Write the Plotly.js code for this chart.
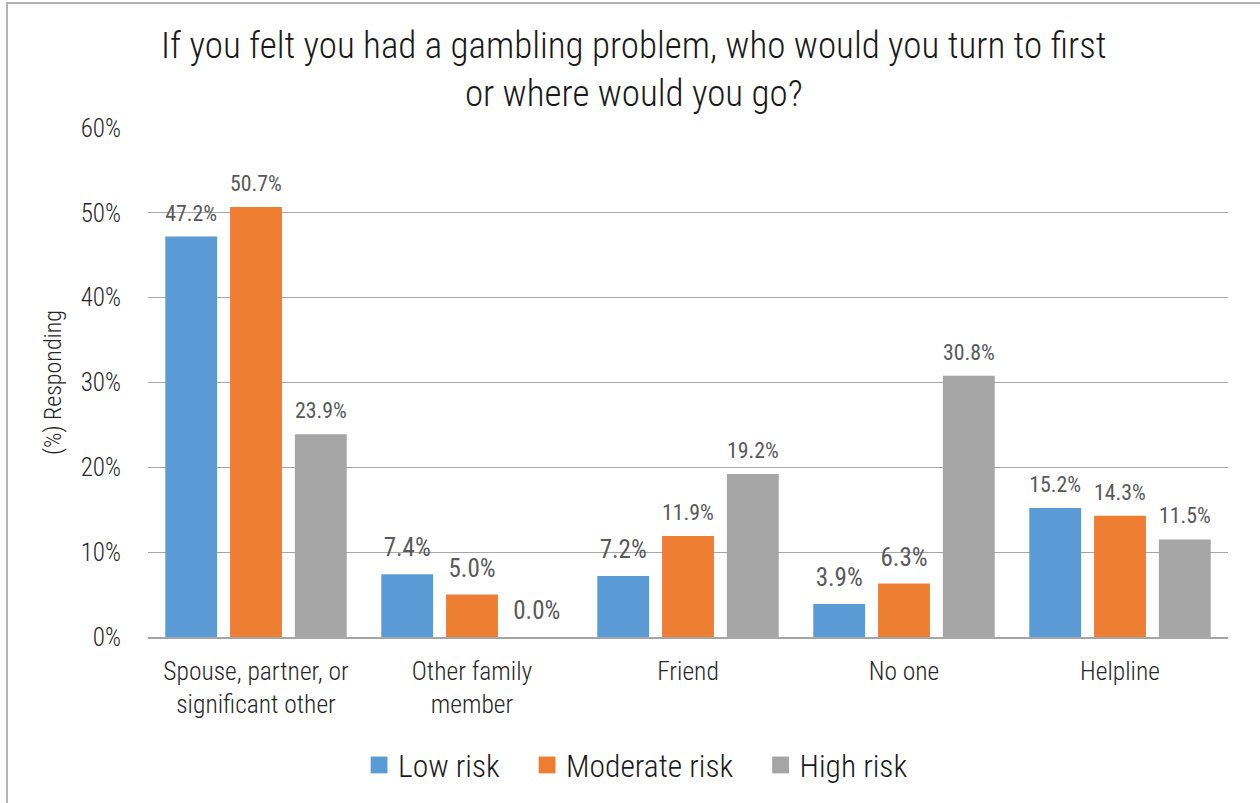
<!DOCTYPE html>
<html>
<head>
<meta charset="utf-8">
<script src="https://cdn.plot.ly/plotly-3.0.1.min.js"></script>
<style>
html,body{margin:0;padding:0;overflow:hidden;background:#fff;}
#wrap{position:relative;width:1260px;height:803px;}
#chart{position:absolute;left:0;top:0;width:1260px;height:803px;}
#frame{position:absolute;left:6px;top:2px;width:1300px;height:900px;border-left:2px solid #b4b4b4;border-top:2px solid #b4b4b4;pointer-events:none;}
</style>
</head>
<body>
<div id="wrap"><div id="chart"></div><div id="frame"></div></div>
<script>
const categories = ["Spouse, partner, or<br>significant other", "Other family<br>member", "Friend", "No one", "Helpline"];
const seriesNames = ["Low risk", "Moderate risk", "High risk"];
const lowRisk = [47.2, 7.4, 7.2, 3.9, 15.2];
const moderateRisk = [50.7, 5.0, 11.9, 6.3, 14.3];
const highRisk = [23.9, 0.0, 19.2, 30.8, 11.5];
const colors = ["#5b9bd5", "#ed7d31", "#a5a5a5"];
const yTicks = [0, 10, 20, 30, 40, 50, 60];

const FONT = "Roboto Condensed, Liberation Sans Narrow, Roboto, sans-serif";
const allSeries = [lowRisk, moderateRisk, highRisk];
const traces = allSeries.map((vals, i) => ({
  type: "bar",
  name: seriesNames[i],
  x: categories,
  y: vals,
  marker: {color: colors[i]},
  text: vals.map(v => v.toFixed(1) + "%"),
  textposition: "outside",
  cliponaxis: false,
  textfont: {family: FONT, size: 25, color: "#595959", weight: 400},
  hoverinfo: "skip"
}));

const layout = {
  width: 1260, height: 803,
  margin: {l: 148, r: 32, t: 128, b: 165},
  paper_bgcolor: "#fff", plot_bgcolor: "#fff",
  font: {family: FONT, color: "#404040", weight: 300},
  title: {
    text: "If you felt you had a gambling problem, who would you turn to first<br>or where would you go?",
    font: {family: FONT, size: 37, color: "#1a1a1a", weight: 300},
    x: 0.503, xanchor: "center", y: 0.928, yanchor: "top"
  },
  barmode: "group",
  bargap: 0.1,
  bargroupgap: 0.2,
  xaxis: {
    tickfont: {family: FONT, size: 25.5, color: "#262626", weight: 300},
    showgrid: false, showline: true, linecolor: "#a6a6a6", linewidth: 1.5,
    ticks: "", ticklabelstandoff: 11
  },
  yaxis: {
    range: [0, 60], tickvals: yTicks, ticktext: yTicks.map(v => v + "%"),
    tickfont: {family: FONT, size: 25, color: "#262626", weight: 300},
    showgrid: true, gridcolor: "#a6a6a6", gridwidth: 1,
    zeroline: false, showline: false, ticks: "", ticklabelstandoff: 26,
    title: {text: "(%) Responding", font: {family: FONT, size: 24, color: "#262626", weight: 300}, standoff: 12}
  },
  legend: {
    orientation: "h", x: 0.1945, xanchor: "left", y: -0.249, yanchor: "middle",
    font: {family: FONT, size: 31.5, color: "#1a1a1a", weight: 300},
    itemwidth: 30, traceorder: "normal"
  },
  showlegend: true
};

function polish() {
  const gd = document.getElementById("chart");
  gd.querySelectorAll("g.trace.bars text.bartext").forEach(t => {
    const tr = t.getAttribute("transform") || "";
    t.setAttribute("transform", tr + " translate(0,-9)");
  });
  gd.querySelectorAll("g.legend [clip-path]").forEach(el => el.removeAttribute("clip-path"));
  gd.querySelectorAll("g.legend g.traces").forEach((g, i) => {
    const tr = g.getAttribute("transform") || "";
    const m = tr.match(/translate\(\s*([-\d.]+)[ ,]+([-\d.]+)\s*\)/);
    if (m) {
      g.setAttribute("transform", "translate(" + (parseFloat(m[1]) + i * 21) + "," + m[2] + ")");
    }
    g.querySelectorAll(".legendpoints path").forEach(p => {
      const ptr = p.getAttribute("transform") || "";
      p.setAttribute("transform", ptr + " translate(1,0) scale(1.4)");
    });
  });
}

Plotly.newPlot("chart", traces, layout, {displayModeBar: false, staticPlot: true}).then(polish);
</script>
</body>
</html>
